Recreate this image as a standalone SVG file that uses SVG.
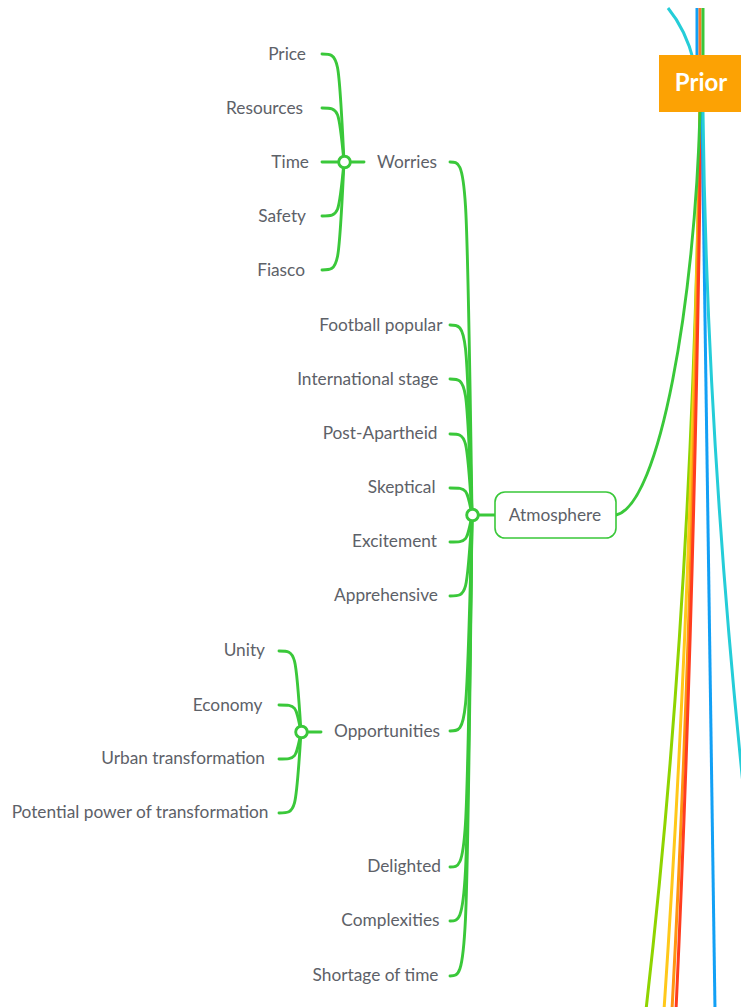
<svg xmlns="http://www.w3.org/2000/svg" width="741" height="1007" viewBox="0 0 741 1007">
  <style>
    .lbl { font-family: Lato, "Noto Sans", "Liberation Sans", sans-serif; font-size: 17.3px; fill: #5d6168; }
    .end { text-anchor: end; }
    .br { fill: none; stroke: #3ac83a; stroke-width: 2.9; stroke-linecap: round; }
    .hub { fill: #ffffff; stroke: #3ac83a; stroke-width: 2.9; }
    .col { fill: none; stroke-width: 3; stroke-linecap: butt; }
    .prior-txt { font-family: Lato, "Noto Sans", "Liberation Sans", sans-serif; font-size: 24px; font-weight: bold; fill: #ffffff; text-anchor: middle; }
  </style>

  <rect width="741" height="1007" fill="#ffffff"/>

  <!-- connectors -->
  <g id="connectors">
    <!-- branches leaving the top of the sheet -->
    <path class="col" stroke="#25cdd8" d="M668,8 Q686,30 694,62"/>
    <path class="col" stroke="#12a0f5" d="M697,8 L697,62"/>
    <path class="col" stroke="#f7792a" d="M700,8 L700,62"/>
    <path class="col" stroke="#3ac83a" d="M703,8 L703,62"/>

    <!-- branches from Prior running down -->
    <path class="col" stroke="#8fd400" d="M700,112 Q693,600 646,1010"/>
    <path class="col" stroke="#ffc81a" d="M700,112 Q692,600 664,1010"/>
    <path class="col" stroke="#ff9412" d="M700,112 Q694,600 672,1010"/>
    <path class="col" stroke="#ff3d1f" d="M701,112 Q695,600 676,1010"/>
    <path class="col" stroke="#12a0f5" d="M702,112 L715,1010"/>
    <path class="col" stroke="#25cdd8" d="M703,112 Q707,460 750,850"/>
    <path class="br" d="M616,515 C660,505 695,300 700,112"/>

    <!-- Atmosphere hub -->
    <path class="br" d="M472,515 L495,515"/>
    <path class="br" d="M472,515 C467,162 467,162 450,162"/>
    <path class="br" d="M472,515 C467,325 467,325 450,325"/>
    <path class="br" d="M472,515 C467,379 467,379 450,379"/>
    <path class="br" d="M472,515 C467,434 467,434 450,434"/>
    <path class="br" d="M472,515 C467,488 467,488 450,488"/>
    <path class="br" d="M472,515 C467,542 467,542 450,542"/>
    <path class="br" d="M472,515 C467,596 467,596 450,596"/>
    <path class="br" d="M472,515 C467,731 467,731 450,731"/>
    <path class="br" d="M472,515 C467,867 467,867 450,867"/>
    <path class="br" d="M472,515 C467,921 467,921 450,921"/>
    <path class="br" d="M472,515 C467,976 467,976 450,976"/>

    <!-- Worries hub -->
    <path class="br" d="M344,162 L364,162"/>
    <path class="br" d="M344,162 C339,54 339,54 322,54"/>
    <path class="br" d="M344,162 C339,108 339,108 322,108"/>
    <path class="br" d="M344,162 L322,162"/>
    <path class="br" d="M344,162 C339,216 339,216 322,216"/>
    <path class="br" d="M344,162 C339,270 339,270 322,270"/>

    <!-- Opportunities hub -->
    <path class="br" d="M301,732 L321,732"/>
    <path class="br" d="M301,732 C296,651 296,651 279,651"/>
    <path class="br" d="M301,732 C296,705 296,705 279,705"/>
    <path class="br" d="M301,732 C296,759 296,759 279,759"/>
    <path class="br" d="M301,732 C296,813 296,813 279,813"/>

    <circle class="hub" cx="472.5" cy="515" r="5.8"/>
    <circle class="hub" cx="344.5" cy="162" r="5.8"/>
    <circle class="hub" cx="301.5" cy="732" r="5.8"/>
  </g>

  <g id="prior">
    <rect x="659" y="55" width="90" height="57" fill="#fca204"/>
    <text class="prior-txt" x="701" y="91">Prior</text>
  </g>

  <g id="atmosphere">
    <rect x="495" y="492" width="121" height="46" rx="10" fill="#ffffff" stroke="#3ac83a" stroke-width="1.6"/>
    <text class="lbl" x="555" y="521" text-anchor="middle">Atmosphere</text>
  </g>

  <g id="worries"><text class="lbl" x="377" y="168">Worries</text></g>
  <g id="price"><text class="lbl end" x="306" y="60">Price</text></g>
  <g id="resources"><text class="lbl end" x="303" y="114">Resources</text></g>
  <g id="time"><text class="lbl end" x="309" y="168">Time</text></g>
  <g id="safety"><text class="lbl end" x="306" y="222">Safety</text></g>
  <g id="fiasco"><text class="lbl end" x="305" y="276">Fiasco</text></g>

  <g id="football-popular"><text class="lbl end" x="442.5" y="331">Football popular</text></g>
  <g id="international-stage"><text class="lbl end" x="438.5" y="385">International stage</text></g>
  <g id="post-apartheid"><text class="lbl end" x="437.5" y="439">Post-Apartheid</text></g>
  <g id="skeptical"><text class="lbl end" x="435.5" y="493">Skeptical</text></g>
  <g id="excitement"><text class="lbl end" x="437" y="547">Excitement</text></g>
  <g id="apprehensive"><text class="lbl end" x="438" y="601">Apprehensive</text></g>

  <g id="opportunities"><text class="lbl" x="334" y="737">Opportunities</text></g>
  <g id="unity"><text class="lbl end" x="265" y="656">Unity</text></g>
  <g id="economy"><text class="lbl end" x="262.5" y="711">Economy</text></g>
  <g id="urban-transformation"><text class="lbl end" x="265" y="764">Urban transformation</text></g>
  <g id="potential-power"><text class="lbl end" x="268.5" y="818">Potential power of transformation</text></g>

  <g id="delighted"><text class="lbl end" x="441" y="872">Delighted</text></g>
  <g id="complexities"><text class="lbl end" x="439.5" y="926">Complexities</text></g>
  <g id="shortage-of-time"><text class="lbl end" x="438.5" y="981">Shortage of time</text></g>
</svg>
